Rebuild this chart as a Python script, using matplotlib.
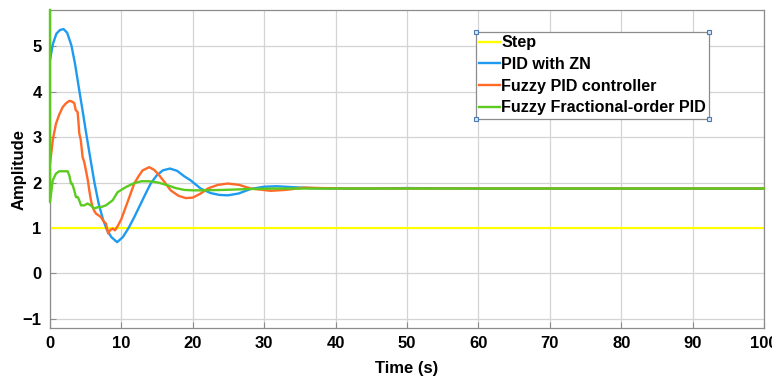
import matplotlib.pyplot as plt
from matplotlib.lines import Line2D

plt.rcParams["font.family"] = ["Liberation Sans", "DejaVu Sans"]
plt.rcParams["font.weight"] = "bold"

step_t = [0, 100]
step_y = [1.0, 1.0]

zn_t = [0.0, 0.4, 0.9, 1.4, 1.9, 2.4, 3.0, 3.5, 4.1, 4.6, 5.0, 5.6, 6.2, 6.8, 7.4, 8.0,
        8.6, 9.4, 10.2, 11.0, 11.8, 12.6, 13.4, 14.1, 14.9, 15.8, 16.8, 17.8, 18.8,
        19.7, 21.1, 22.5, 23.7, 24.9, 26.4, 28.1, 30.0, 31.8, 34.0, 36.5, 40.0, 45.0,
        50.0, 60.0, 70.0, 80.0, 90.0, 100.0]
zn_y = [4.70, 5.05, 5.28, 5.36, 5.38, 5.30, 5.02, 4.62, 4.03, 3.55, 3.15, 2.58, 2.02,
        1.55, 1.20, 0.95, 0.80, 0.69, 0.80, 1.00, 1.24, 1.50, 1.76, 1.98, 2.15, 2.27,
        2.31, 2.26, 2.14, 2.05, 1.87, 1.77, 1.73, 1.72, 1.76, 1.86, 1.91, 1.92, 1.90,
        1.88, 1.87, 1.87, 1.88, 1.87, 1.87, 1.87, 1.87, 1.87]

fz_t = [0.0, 0.4, 0.84, 1.3, 1.77, 2.2, 2.7, 3.0, 3.4, 3.6, 3.87, 4.0, 4.1, 4.3,
        4.57, 4.8, 5.03, 5.3, 5.5, 5.75, 5.97, 6.2, 6.43, 6.8, 7.13, 7.5, 7.83, 8.15,
        8.4, 8.77, 9.1, 9.47, 10.0, 10.6, 11.2, 11.8, 12.4, 12.97, 13.9, 14.6, 15.3,
        16.1, 16.9, 18.0, 19.0, 20.0, 21.1, 22.1, 23.5, 24.9, 26.5, 28.1, 30.9, 33.0,
        35.6, 38.0, 42.0, 50.0, 60.0, 70.0, 80.0, 90.0, 100.0]
fz_y = [2.42, 2.95, 3.30, 3.50, 3.66, 3.74, 3.80, 3.79, 3.75, 3.60, 3.55, 3.30, 3.08,
        2.95, 2.56, 2.45, 2.27, 2.05, 1.83, 1.60, 1.46, 1.38, 1.32, 1.28, 1.24, 1.15,
        1.10, 0.88, 0.95, 0.99, 0.95, 1.04, 1.20, 1.46, 1.72, 1.98, 2.14, 2.27, 2.34,
        2.28, 2.16, 2.00, 1.83, 1.71, 1.66, 1.67, 1.76, 1.87, 1.95, 1.98, 1.95, 1.87,
        1.82, 1.84, 1.89, 1.88, 1.87, 1.87, 1.87, 1.87, 1.87, 1.87, 1.87]

ffo_t = [0.0, 0.0, 0.38, 0.84, 1.3, 2.47, 2.7, 2.94, 3.1, 3.4, 3.64, 3.9, 4.1, 4.34,
         4.8, 5.27, 5.7, 6.2, 6.7, 7.13, 7.83, 8.77, 9.47, 10.6, 11.8, 12.8, 13.9,
         15.2, 16.5, 17.6, 18.8, 20.0, 21.1, 24.4, 28.0, 32.0, 40.0, 50.0, 60.0, 70.0,
         80.0, 90.0, 100.0]
ffo_y = [5.80, 1.57, 2.05, 2.20, 2.25, 2.25, 2.16, 1.98, 1.98, 1.83, 1.68, 1.68, 1.61,
         1.50, 1.50, 1.54, 1.50, 1.43, 1.46, 1.46, 1.50, 1.61, 1.79, 1.90, 1.99, 2.03,
         2.03, 2.00, 1.94, 1.88, 1.84, 1.83, 1.83, 1.84, 1.86, 1.87, 1.87, 1.87, 1.87,
         1.87, 1.87, 1.87, 1.87]

labels = ["Step", "PID with ZN", "Fuzzy PID controller", "Fuzzy Fractional-order PID"]
colors = ["#FFFF00", "#1E9BF0", "#FF6A28", "#5CCB1F"]

fig = plt.figure(figsize=(7.72, 3.77), dpi=100)
ax = fig.add_axes([50 / 772, 1 - 328 / 377, 714 / 772, 318 / 377])

ax.plot(step_t, step_y, color=colors[0], lw=1.5, label=labels[0])
ax.plot(zn_t, zn_y, color=colors[1], lw=1.7, label=labels[1])
ax.plot(fz_t, fz_y, color=colors[2], lw=1.7, label=labels[2])
ax.plot(ffo_t, ffo_y, color=colors[3], lw=1.7, label=labels[3], clip_on=False, zorder=3)

ax.set_xlim(0, 100)
ax.set_ylim(-1.2, 5.8)
ax.set_xticks(range(0, 101, 10))
ax.set_yticks(range(-1, 6))
ax.grid(True, color="#d4d4d4", lw=0.9)
ax.set_axisbelow(True)
for s in ax.spines.values():
    s.set_color("#8c8c8c")
    s.set_linewidth(0.9)
ax.tick_params(direction="in", length=4, color="#8c8c8c", labelsize=12, pad=6)
for lab in ax.get_xticklabels() + ax.get_yticklabels():
    lab.set_fontweight("bold")

ax.set_xlabel("Time (s)", fontsize=12, fontweight="bold", labelpad=7)
ax.set_ylabel("Amplitude", fontsize=12, fontweight="bold", labelpad=-3)

handles = [Line2D([], [], color=c, lw=1.7) for c in colors]
leg = ax.legend(handles, labels, loc="upper left", bbox_to_anchor=(0.597, 0.931),
                frameon=True, fancybox=False, handlelength=1.25,
                handletextpad=0.1, labelspacing=0.42, borderpad=0.2,
                borderaxespad=0, prop={"weight": "bold", "size": 11.6})
leg.get_frame().set_edgecolor("#8c8c8c")
leg.get_frame().set_linewidth(0.9)
leg.get_frame().set_alpha(1)

# selection handles on the legend corners
fig.canvas.draw()
bb = leg.get_frame().get_window_extent().transformed(fig.transFigure.inverted())
fig.add_artist(Line2D([bb.x0, bb.x1, bb.x0, bb.x1], [bb.y0, bb.y0, bb.y1, bb.y1],
                      transform=fig.transFigure, ls="none", marker="s", ms=3.5,
                      mfc="#dbe8f5", mec="#4a7ab5", mew=0.8))

fig.savefig("out.png", dpi=100)
